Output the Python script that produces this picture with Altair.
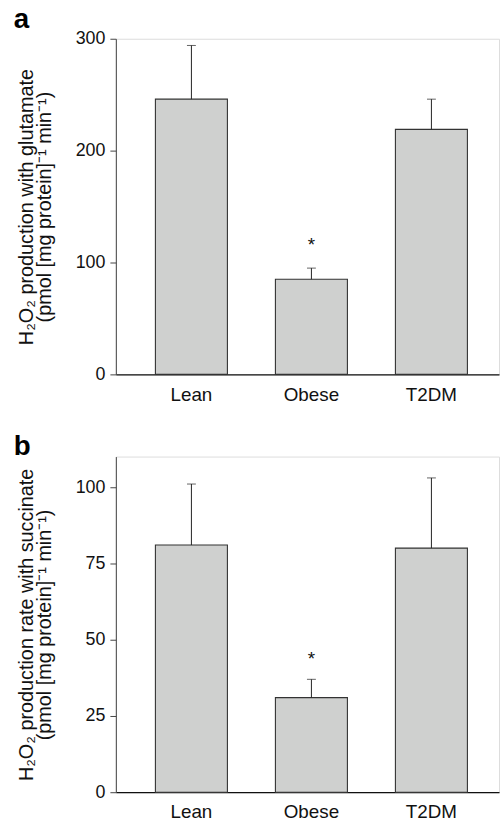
import altair as alt
import pandas as pd

groups = ["Lean", "Obese", "T2DM"]

# Panel a: H2O2 production with glutamate
glut_mean = [246, 85, 219]
glut_upper = [294, 95, 246]
glut_star = [None, 110.5, None]

# Panel b: H2O2 production rate with succinate
succ_mean = [81, 31, 80]
succ_upper = [101, 37, 103]
succ_star = [None, 41.6, None]

FONT = "Liberation Sans"
BAR_FILL = "#cfd0cf"
AX_COLOR = "#444444"


def panel(letter, means, uppers, stars, ymax, ticks, title_lines, height):
    df = pd.DataFrame({"group": groups, "mean": means, "upper": uppers,
                       "star": stars})
    xenc = alt.X("group:N", sort=groups,
                 scale=alt.Scale(paddingInner=0.4, paddingOuter=0.2965, align=0.556),
                 axis=alt.Axis(title=None, labelAngle=0, ticks=False,
                               labelFontSize=19, labelPadding=11,
                               labelColor="#111", domainColor="#111",
                               domainWidth=1.2, labelFont=FONT))
    yscale = alt.Scale(domain=[0, ymax], nice=False, zero=True)
    yaxis = alt.Axis(values=ticks, title=title_lines, grid=False,
                     labelFontSize=18, labelFont=FONT, labelColor="#111",
                     tickSize=6, tickColor=AX_COLOR, domainColor=AX_COLOR,
                     labelPadding=5, titleFont=FONT, titleFontSize=20,
                     titleFontWeight="normal", titleColor="#111",
                     titlePadding=21, titleLineHeight=18)
    base = alt.Chart(df)
    bars = base.mark_bar(fill=BAR_FILL, stroke="#333", strokeWidth=1.1).encode(
        x=xenc, y=alt.Y("mean:Q", scale=yscale, axis=yaxis))
    err = base.mark_rule(color="#222", strokeWidth=1).encode(
        x=alt.X("group:N", sort=groups), y="mean:Q", y2="upper:Q")
    cap = base.mark_tick(color="#222", thickness=1, size=9, orient="horizontal").encode(
        x=alt.X("group:N", sort=groups), y="upper:Q")
    star = base.transform_filter("isValid(datum.star)").mark_text(
        text="*", fontSize=19, font=FONT, color="#111", baseline="alphabetic").encode(
        x=alt.X("group:N", sort=groups), y="star:Q")
    return alt.layer(bars, err, cap, star).properties(
        width=387, height=height,
        title=alt.TitleParams(letter, anchor="start", frame="bounds", fontSize=28,
                              fontWeight="bold", font=FONT, color="#000",
                              offset=0, dx=-3, dy=4))


chart_a = panel("a", glut_mean, glut_upper, glut_star, 300, [0, 100, 200, 300],
                ["H₂O₂ production with glutamate", "(pmol [mg protein]⁻¹ min⁻¹)"], 339)
chart_b = panel("b", succ_mean, succ_upper, succ_star, 110, [0, 25, 50, 75, 100],
                ["H₂O₂ production rate with succinate", "(pmol [mg protein]⁻¹ min⁻¹)"], 339)

chart = alt.vconcat(chart_a, chart_b, spacing=27).properties(
    padding={"left": 13, "top": 1, "right": 0, "bottom": 0}
).configure_view(stroke=None).configure(background="white")

chart.save("out.html", embed_options={"renderer": "svg", "actions": False})
